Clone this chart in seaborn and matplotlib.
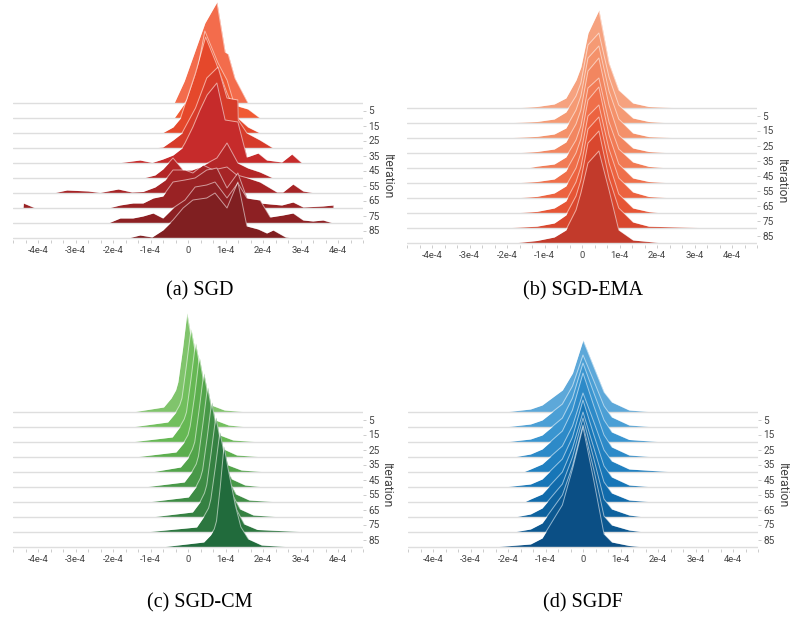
import matplotlib
matplotlib.use("Agg")
import matplotlib.pyplot as plt
import numpy as np
import pandas as pd
import seaborn as sns

W, H, DPI = 791, 617, 100

# training steps of the stored histograms and the labelled steps on the right axis
steps = [0, 10, 20, 30, 40, 50, 60, 70, 80, 90]
step_ticks = [5, 15, 25, 35, 45, 55, 65, 75, 85]
step_labels = ["5", "15", "25", "35", "45", "55", "65", "75", "85"]

# x axis: value in units of 1e-4
x_label_values = [-4, -3, -2, -1, 0, 1, 2, 3, 4]
x_tick_labels = ["-4e-4", "-3e-4", "-2e-4", "-1e-4", "0", "1e-4", "2e-4", "3e-4", "4e-4"]

# ---- (a) SGD: update histograms (bin position in 1e-4, count height) ----
sgd_pos = [
    [-0.37, -0.1, 0.45, 0.77, 0.99, 1.07, 1.25, 1.6],
    [-0.37, -0.03, 0.24, 0.45, 0.8, 1.04, 1.2, 1.33, 1.6, 1.92],
    [-0.69, -0.4, -0.2, 0.2, 0.47, 0.75, 1.04, 1.33, 1.6, 1.92],
    [-0.93, -0.67, -0.4, -0.16, 0.2, 0.5, 0.8, 1.04, 1.33, 1.34, 1.57, 1.92, 2.27],
    [-1.89, -1.28, -0.96, -0.67, -0.4, -0.16, -0.08, 0.13, 0.32, 0.51, 0.77, 0.99,
     1.33, 1.57, 1.87, 2.1, 2.5, 2.77, 3.04],
    [-1.2, -0.88, -0.67, -0.4, -0.13, 0.1, 0.32, 0.77, 1.04, 1.33, 1.6, 1.92, 2.27],
    [-3.6, -3.23, -2.66, -2.35, -1.86, -1.5, -1.2, -0.88, -0.61, -0.4, -0.08, 0.13,
     0.4, 0.67, 1.04, 1.3, 1.6, 1.92, 2.37, 2.53, 2.8, 3.07, 3.39],
    [-4.4, -4.39, -4.07, -2.13, -1.81, -1.47, -1.2, -0.93, -0.67, -0.4, -0.08, 0.19,
     0.5, 0.77, 1.04, 1.33, 1.57, 1.92, 2.2, 2.5, 2.8, 3.07, 3.6, 3.87, 3.88],
    [-2.13, -1.81, -1.47, -1.2, -0.93, -0.67, -0.4, -0.08, 0.19, 0.5, 0.72, 1.04,
     1.33, 1.57, 1.92, 2.19, 2.53, 2.8, 3.07, 3.33, 3.6, 3.87],
    [-1.6, -1.28, -0.96, -0.67, -0.4, -0.13, 0.13, 0.5, 0.72, 1.04, 1.33, 1.57,
     1.87, 2.1, 2.27, 2.6, 2.8],
]
sgd_cnt = [
    [0, 22, 80, 101, 51, 49, 25, 0],
    [0, 18, 46, 87, 55, 38, 18, 12, 9, 0],
    [0, 6, 15, 60, 96, 70, 40, 15, 6, 0],
    [0, 1, 8, 15, 40, 70, 81, 50, 48, 28, 15, 8, 0],
    [0, 3, 0.5, 4, 8, 15, 20, 36, 53, 68, 80, 43, 41, 6, 10, 3, 1, 9, 0],
    [0, 3, 9, 20, 8, 8, 11, 20, 35, 15, 10, 6, 0],
    [0, 3, 2, 0.5, 4, 1, 1.5, 6, 13, 23, 23, 20, 28, 23, 26, 18, 15, 11, 1, 1, 9, 2, 0],
    [0, 5, 0, 0, 3, 5, 5, 10, 12, 26, 28, 30, 38, 40, 20, 35, 10, 5, 4, 3, 6, 1, 2, 3, 0],
    [0, 5, 5, 7, 10, 5, 15, 23, 36, 38, 41, 25, 40, 25, 23, 6, 8, 10, 3, 2, 3, 0],
    [0, 3, 1, 8, 18, 30, 38, 40, 45, 30, 56, 12, 9, 5, 8, 1, 0],
]
sgd_colors = ["#f36c4c", "#f05a33", "#e5482b", "#d63b2a", "#c62b2b",
              "#b32627", "#a62426", "#992224", "#8d2023", "#801f21"]

# ---- (b) SGD-EMA ----
ema_pos = [
    [-1.84, -1.2, -0.74, -0.43, -0.16, -0.03, 0.16, 0.45, 0.72, 0.98, 1.36, 1.78, 2.71],
    [-2.12, -1.2, -0.74, -0.43, -0.16, -0.03, 0.16, 0.45, 0.72, 0.98, 1.36, 1.78, 2.39],
    [-2.14, -1.2, -0.74, -0.43, -0.16, -0.03, 0.16, 0.45, 0.72, 0.98, 1.36, 1.78, 2.71],
    [-1.84, -1.2, -0.74, -0.43, -0.16, -0.03, 0.16, 0.45, 0.72, 0.98, 1.36, 1.78, 2.43],
    [-1.47, -1.2, -0.74, -0.43, -0.16, -0.03, 0.16, 0.45, 0.72, 0.98, 1.36, 1.78, 2.32],
    [-1.86, -1.2, -0.74, -0.43, -0.16, -0.03, 0.16, 0.45, 0.72, 0.98, 1.36, 1.78, 2.43],
    [-1.84, -1.2, -0.74, -0.43, -0.16, -0.03, 0.16, 0.45, 0.72, 0.98, 1.36, 1.78, 2.46],
    [-1.86, -1.2, -0.74, -0.43, -0.16, -0.03, 0.16, 0.45, 0.72, 0.98, 1.36, 1.78, 2.15],
    [-2.14, -1.2, -0.74, -0.43, -0.16, -0.03, 0.16, 0.45, 0.72, 0.98, 1.36, 1.78, 3.6],
    [-1.84, -1.2, -0.74, -0.43, -0.16, -0.03, 0.16, 0.45, 0.72, 0.98, 1.36, 1.78, 2.15],
]
ema_cnt = [
    [0, 1.5, 4, 10, 28, 41, 75, 98, 45, 18, 5, 1.5, 0],
    [0, 1.5, 4, 11, 27, 40, 78, 90, 46, 18, 5, 1.5, 0],
    [0, 1.6, 4, 10, 28, 42, 80, 92, 47, 19, 5, 1.4, 0],
    [0, 1.5, 4, 11, 29, 43, 82, 95, 48, 18, 5, 1.5, 0],
    [0, 1.8, 4, 11, 28, 42, 80, 90, 46, 19, 6, 1.6, 0],
    [0, 1.5, 4, 12, 30, 44, 83, 96, 48, 19, 5, 1.5, 0],
    [0, 1.6, 5, 12, 30, 45, 82, 93, 49, 20, 6, 1.5, 0],
    [0, 1.6, 5, 12, 31, 46, 84, 96, 50, 19, 5, 1.4, 0],
    [0, 1.8, 5, 13, 32, 48, 85, 97, 50, 20, 6, 1.8, 0],
    [0, 2.5, 6, 13, 33, 50, 80, 92, 53, 13, 3, 1.5, 0],
]
ema_colors = ["#f6a27f", "#f59a74", "#f4916a", "#f28660", "#f17b55",
              "#ef6f4a", "#ec6340", "#e65535", "#d9472e", "#c23a2b"]

# ---- (c) SGD-CM ----
cm_pos = [
    [-1.49, -0.65, -0.45, -0.33, -0.27, -0.15, -0.03, 0.07, 0.27, 0.42, 0.62, 0.97, 1.61],
    [-1.52, -0.54, -0.34, -0.22, -0.16, -0.04, 0.08, 0.18, 0.38, 0.53, 0.73, 1.08, 1.59],
    [-1.54, -0.42, -0.22, -0.1, -0.04, 0.08, 0.2, 0.3, 0.5, 0.65, 0.85, 1.2, 1.95],
    [-1.43, -0.32, -0.12, 0.0, 0.06, 0.18, 0.3, 0.4, 0.6, 0.75, 0.95, 1.3, 2.04],
    [-0.99, -0.2, 0.0, 0.12, 0.18, 0.3, 0.42, 0.52, 0.72, 0.87, 1.07, 1.42, 2.12],
    [-1.18, -0.1, 0.1, 0.22, 0.28, 0.4, 0.52, 0.62, 0.82, 0.97, 1.17, 1.52, 2.04],
    [-1.09, 0.01, 0.21, 0.33, 0.39, 0.51, 0.63, 0.73, 0.93, 1.08, 1.28, 1.63, 2.44],
    [-0.99, 0.12, 0.32, 0.44, 0.5, 0.62, 0.74, 0.84, 1.04, 1.19, 1.39, 1.74, 2.51],
    [-1.15, 0.23, 0.43, 0.55, 0.61, 0.73, 0.85, 0.95, 1.15, 1.3, 1.5, 1.85, 3.25],
    [-0.72, 0.42, 0.6, 0.7, 0.76, 0.86, 0.96, 1.06, 1.26, 1.41, 1.61, 1.96, 2.8],
]
cm_cnt = [
    [0, 5, 14, 22, 30, 62, 99, 78, 40, 20, 7, 2, 0],
    [0, 5, 14, 22, 29, 62, 98, 78, 41, 20, 7, 2, 0],
    [0, 5, 15, 23, 30, 63, 99, 79, 41, 21, 7, 2, 0],
    [0, 5, 14, 22, 31, 62, 100, 79, 42, 21, 8, 2, 0],
    [0, 5, 14, 23, 30, 63, 99, 80, 42, 21, 7, 2, 0],
    [0, 5, 15, 23, 31, 64, 100, 80, 42, 21, 8, 2, 0],
    [0, 5, 15, 24, 32, 64, 100, 80, 43, 22, 8, 2, 0],
    [0, 5, 15, 24, 32, 65, 100, 81, 43, 22, 8, 2, 0],
    [0, 5, 16, 24, 33, 65, 100, 81, 44, 22, 8, 2.5, 0],
    [0, 5, 12, 18, 26, 60, 101, 80, 42, 20, 8, 2, 0],
]
cm_colors = ["#80c46c", "#72bf5e", "#66b854", "#5cae4e", "#52a44b",
             "#489848", "#3e8c45", "#358142", "#2c763f", "#216b3c"]

# ---- (d) SGDF ----
sgdf_pos = [
    [-2.1, -1.4, -1.09, -0.55, -0.28, 0, 0.29, 0.56, 0.77, 1.23, 1.9],
    [-2.1, -1.4, -1.09, -0.55, -0.28, 0, 0.29, 0.56, 0.77, 1.23, 1.94],
    [-2.1, -1.4, -1.09, -0.55, -0.28, 0, 0.29, 0.56, 0.77, 1.23, 2.17],
    [-1.86, -1.4, -1.09, -0.55, -0.28, 0, 0.29, 0.56, 0.77, 1.23, 1.94],
    [-1.6, -1.4, -1.09, -0.55, -0.28, 0, 0.29, 0.56, 0.77, 1.23, 2.47],
    [-2.12, -1.4, -1.09, -0.55, -0.28, 0, 0.29, 0.56, 0.77, 1.23, 1.9],
    [-1.57, -1.4, -1.09, -0.55, -0.28, 0, 0.29, 0.56, 0.77, 1.23, 1.9],
    [-1.83, -1.4, -1.09, -0.55, -0.28, 0, 0.29, 0.56, 0.77, 1.23, 1.63],
    [-1.86, -1.4, -1.09, -0.55, -0.28, 0, 0.29, 0.56, 0.77, 1.23, 1.63],
    [-2.41, -1.4, -1.09, -0.55, -0.28, 0, 0.29, 0.56, 0.77, 1.23, 1.63],
]
sgdf_cnt = [
    [0, 3, 7, 22, 39, 72, 45, 20, 10, 2, 0],
    [0, 3, 7, 23, 41, 72, 46, 21, 10, 2, 0],
    [0, 3, 7, 24, 44, 79, 49, 22, 10, 2.5, 0],
    [0, 3, 8, 26, 47, 84, 51, 22, 10, 2, 0],
    [0, 3, 8, 26, 46, 79, 50, 22, 11, 3, 0],
    [0, 3, 8, 28, 50, 87, 52, 21, 10, 2, 0],
    [0, 3, 8, 30, 54, 90, 54, 20, 9, 2, 0],
    [0, 3, 9, 33, 60, 99, 58, 18, 8, 2, 0],
    [0, 3, 9, 37, 66, 107, 62, 16, 7, 2, 0],
    [0, 3, 9, 42, 78, 120, 66, 13, 5, 1.5, 0],
]
sgdf_colors = ["#5da8d9", "#4b9fd5", "#3a95d0", "#2d8ac8", "#2180c0",
               "#1776b7", "#116bab", "#0e629e", "#0c5891", "#0b4f85"]

captions = ["(a) SGD", "(b) SGD-EMA", "(c) SGD-CM", "(d) SGDF"]

sns.set_theme(style="white")
plt.rcParams["font.family"] = ["Roboto", "DejaVu Sans"]

fig = plt.figure(figsize=(W / DPI, H / DPI), dpi=DPI)

# pixel layout of each panel: axis left edge, last baseline, top, caption centre, axis-title centre
layout = [
    dict(left=13, base=238, top=0, cap=(200, 291), ttl=(387, 177)),
    dict(left=407, base=243, top=0, cap=(583, 291), ttl=(781, 182)),
    dict(left=13, base=547, top=300, cap=(200, 603), ttl=(386, 486)),
    dict(left=408, base=547, top=300, cap=(583, 603), ttl=(782, 486)),
]
panels = [
    (sgd_pos, sgd_cnt, sgd_colors),
    (ema_pos, ema_cnt, ema_colors),
    (cm_pos, cm_cnt, cm_colors),
    (sgdf_pos, sgdf_cnt, sgdf_colors),
]

AX_W = 350
PX_PER_STEP = 1.5
minor_x = [k / 3 for k in range(-14, 15)]

for (pos_rows, cnt_rows, colors), lay, cap in zip(panels, layout, captions):
    bottom_px = lay["base"] + 2
    ax = fig.add_axes([lay["left"] / W, 1 - bottom_px / H, AX_W / W,
                       (bottom_px - lay["top"]) / H])
    ax.set_xlim(-14 / 3, 14 / 3)
    ax.set_ylim(-2, lay["base"] - lay["top"])

    for i, (s, xs, hs, c) in enumerate(zip(steps, pos_rows, cnt_rows, colors)):
        base = (steps[-1] - s) * PX_PER_STEP
        x = np.asarray(xs, dtype=float)
        y = base + np.asarray(hs, dtype=float)
        ax.fill_between(x, base, y, color=c, lw=0, zorder=2 + 3 * i)
        df = pd.DataFrame({"x": x, "y": y})
        sns.lineplot(data=df, x="x", y="y", sort=False, estimator=None,
                     color="white", alpha=0.55, lw=0.7, ax=ax, zorder=3 + 3 * i)
        ax.axhline(base, color="#dedede", lw=1.0, zorder=4 + 3 * i)

    for sp in ax.spines.values():
        sp.set_visible(False)
    ax.set_xlabel("")
    ax.set_ylabel("")
    ax.grid(False)

    ax.set_xticks(x_label_values)
    ax.set_xticklabels(x_tick_labels)
    ax.set_xticks(minor_x, minor=True)
    ax.tick_params(axis="x", which="both", bottom=True, length=2.5, width=0.6,
                   color="#c4c4c4", labelsize=6.8, labelcolor="#444444", pad=1.5)

    ax.yaxis.tick_right()
    ax.set_yticks([(steps[-1] - s) * PX_PER_STEP for s in step_ticks])
    ax.set_yticklabels(step_labels)
    ax.tick_params(axis="y", which="both", right=True, left=False, length=2.5,
                   width=0.6, color="#c4c4c4", labelsize=7.2, labelcolor="#444444", pad=1.5)

    tx, ty = lay["ttl"]
    fig.text(tx / W, 1 - ty / H, "Iteration", rotation=-90, ha="center", va="center",
             fontsize=8.8, color="#444444")
    cx, cy = lay["cap"]
    fig.text(cx / W, 1 - cy / H, cap, ha="center", va="center",
             fontsize=14.5, family="Liberation Serif", color="black")

fig.savefig("out.png", dpi=DPI)
